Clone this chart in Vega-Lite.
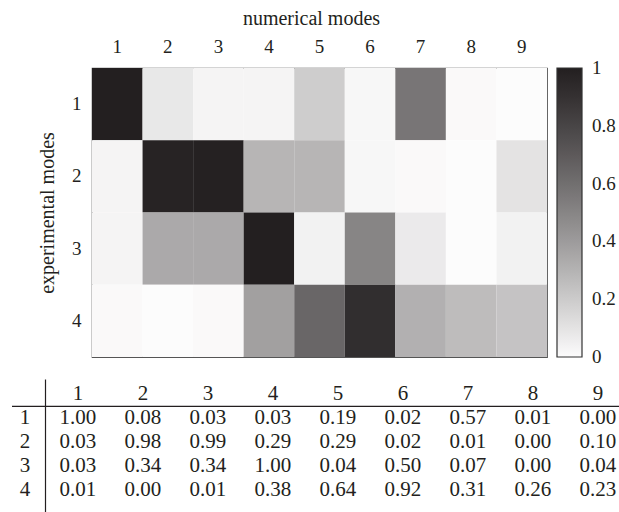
{
  "$schema": "https://vega.github.io/schema/vega-lite/v6.json",
  "padding": 0,
  "background": "white",
  "spacing": 0,
  "config": {"font": "Liberation Serif", "view": {"stroke": null}},
  "datasets": {
    "m": [
      {"e": 1, "n": 1, "v": 1.00}, {"e": 1, "n": 2, "v": 0.08}, {"e": 1, "n": 3, "v": 0.03}, {"e": 1, "n": 4, "v": 0.03}, {"e": 1, "n": 5, "v": 0.19}, {"e": 1, "n": 6, "v": 0.02}, {"e": 1, "n": 7, "v": 0.57}, {"e": 1, "n": 8, "v": 0.01}, {"e": 1, "n": 9, "v": 0.00},
      {"e": 2, "n": 1, "v": 0.03}, {"e": 2, "n": 2, "v": 0.98}, {"e": 2, "n": 3, "v": 0.99}, {"e": 2, "n": 4, "v": 0.29}, {"e": 2, "n": 5, "v": 0.29}, {"e": 2, "n": 6, "v": 0.02}, {"e": 2, "n": 7, "v": 0.01}, {"e": 2, "n": 8, "v": 0.00}, {"e": 2, "n": 9, "v": 0.10},
      {"e": 3, "n": 1, "v": 0.03}, {"e": 3, "n": 2, "v": 0.34}, {"e": 3, "n": 3, "v": 0.34}, {"e": 3, "n": 4, "v": 1.00}, {"e": 3, "n": 5, "v": 0.04}, {"e": 3, "n": 6, "v": 0.50}, {"e": 3, "n": 7, "v": 0.07}, {"e": 3, "n": 8, "v": 0.00}, {"e": 3, "n": 9, "v": 0.04},
      {"e": 4, "n": 1, "v": 0.01}, {"e": 4, "n": 2, "v": 0.00}, {"e": 4, "n": 3, "v": 0.01}, {"e": 4, "n": 4, "v": 0.38}, {"e": 4, "n": 5, "v": 0.64}, {"e": 4, "n": 6, "v": 0.92}, {"e": 4, "n": 7, "v": 0.31}, {"e": 4, "n": 8, "v": 0.26}, {"e": 4, "n": 9, "v": 0.23}
    ]
  },
  "resolve": {
    "scale": {"color": "independent", "x": "independent", "y": "independent"},
    "legend": {"color": "independent"}
  },
  "vconcat": [
    {
      "width": 455,
      "height": 289,
      "view": {"stroke": "#555555", "strokeWidth": 1.2},
      "data": {"name": "m"},
      "mark": {"type": "rect"},
      "encoding": {
        "x": {
          "field": "n", "type": "ordinal",
          "scale": {"paddingInner": 0, "paddingOuter": 0},
          "axis": {
            "orient": "top", "title": "numerical modes", "labelAngle": 0,
            "domain": false, "ticks": false, "tickSize": 0, "labelPadding": 12,
            "labelFontSize": 19, "labelColor": "#231f20",
            "titleFontSize": 20, "titleFontWeight": "normal", "titleColor": "#231f20",
            "titleX": 219, "titleY": -44, "titleBaseline": "alphabetic",
            "minExtent": 67, "maxExtent": 67
          }
        },
        "y": {
          "field": "e", "type": "ordinal",
          "scale": {"paddingInner": 0, "paddingOuter": 0},
          "axis": {
            "title": "experimental modes",
            "domain": false, "ticks": false, "tickSize": 0, "labelPadding": 11,
            "labelFontSize": 19, "labelColor": "#231f20", "labelAngle": 0,
            "titleFontSize": 20, "titleFontWeight": "normal", "titleColor": "#231f20",
            "titleX": -39, "titleY": 144.5, "titleAngle": -90, "titleBaseline": "alphabetic", "titleAlign": "center",
            "minExtent": 91, "maxExtent": 91
          }
        },
        "color": {
          "field": "v", "type": "quantitative",
          "scale": {"domain": [0, 1], "range": ["#fcfcfc", "#231f20"]},
          "legend": {
            "title": null, "orient": "right", "offset": 10, "padding": 0,
            "gradientLength": 289, "gradientThickness": 25,
            "gradientStrokeColor": "#333333", "gradientStrokeWidth": 1.2,
            "values": [0, 0.2, 0.4, 0.6, 0.8, 1], "format": "~g",
            "labelFontSize": 19, "labelOffset": 10, "labelColor": "#231f20",
            "labelBaseline": "middle", "labelOverlap": false,
            "encode": {"labels": {"update": {"baseline": {"value": "middle"}}}}
          }
        }
      }
    },
    {
      "width": 528,
      "height": 146,
      "view": {"stroke": null},
      "data": {"name": "m"},
      "encoding": {
        "x": {"field": "n", "type": "quantitative", "scale": {"domain": [1.2154, 9.3385], "nice": false, "zero": false}, "axis": null},
        "y": {"field": "e", "type": "quantitative", "scale": {"domain": [-1.0625, 5.0208], "nice": false, "zero": false, "reverse": true}, "axis": null}
      },
      "layer": [
        {
          "mark": {"type": "text", "fontSize": 21, "color": "#231f20", "baseline": "middle"},
          "encoding": {"text": {"field": "v", "type": "quantitative", "format": ".2f"}}
        },
        {
          "transform": [{"filter": "datum.e == 1"}],
          "mark": {"type": "text", "fontSize": 21, "color": "#231f20", "baseline": "middle"},
          "encoding": {"y": {"datum": 0, "type": "quantitative"}, "text": {"field": "n", "type": "nominal"}}
        },
        {
          "transform": [{"filter": "datum.n == 1"}],
          "mark": {"type": "text", "fontSize": 21, "color": "#231f20", "baseline": "middle", "dx": 12},
          "encoding": {"x": {"datum": 0, "type": "quantitative"}, "text": {"field": "e", "type": "nominal"}}
        },
        {
          "transform": [{"filter": "datum.e == 1 && datum.n == 1"}],
          "mark": {"type": "rule", "color": "#231f20", "strokeWidth": 1.2},
          "encoding": {"x": {"datum": 0.5, "type": "quantitative"}, "y": {"datum": -0.583, "type": "quantitative"}, "y2": {"datum": 5.02}}
        },
        {
          "transform": [{"filter": "datum.e == 1 && datum.n == 1"}],
          "mark": {"type": "rule", "color": "#231f20", "strokeWidth": 1.2},
          "encoding": {"y": {"datum": 0.54, "type": "quantitative"}, "x": {"datum": -0.0154, "type": "quantitative"}, "x2": {"datum": 9.3385}}
        }
      ]
    }
  ]
}
